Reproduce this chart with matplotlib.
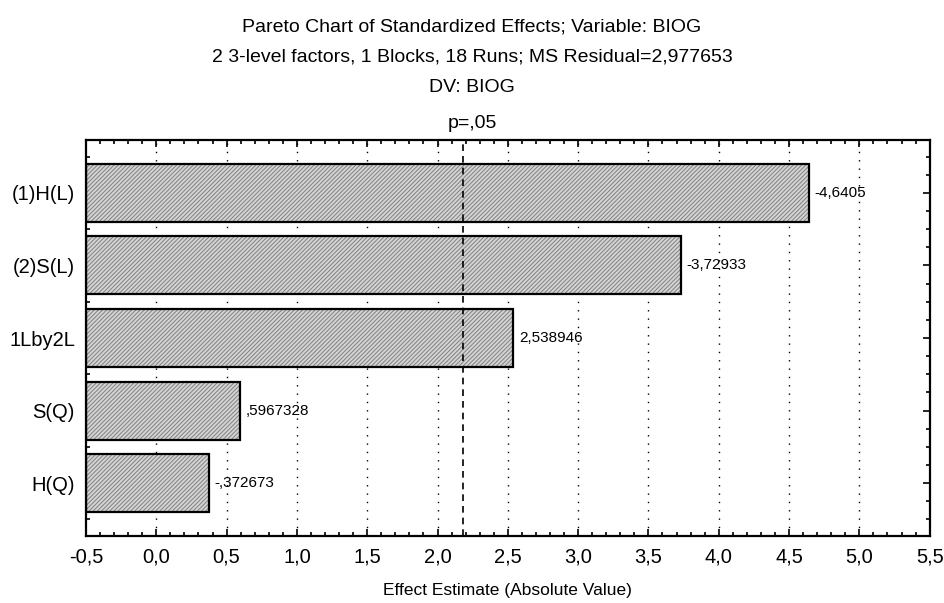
import matplotlib.pyplot as plt
from matplotlib.ticker import MultipleLocator, FixedLocator

plt.rcParams['font.family'] = ['Liberation Sans', 'DejaVu Sans']
plt.rcParams['hatch.linewidth'] = 0.7

# data
factors = ['(1)H(L)', '(2)S(L)', '1Lby2L', 'S(Q)', 'H(Q)']
effects = [-4.6405, -3.72933, 2.538946, 0.5967328, -0.372673]
value_labels = ['-4,6405', '-3,72933', '2,538946', ',5967328', '-,372673']
t_crit = 2.178813
x_ticks = [-0.5, 0.0, 0.5, 1.0, 1.5, 2.0, 2.5, 3.0, 3.5, 4.0, 4.5, 5.0, 5.5]


def main():
    fig = plt.figure(figsize=(9.44, 6.03), dpi=100)
    ax = fig.add_axes([0.0911, 0.1111, 0.8937, 0.6567])

    pos = list(range(len(factors)))
    widths = [abs(e) + 0.5 for e in effects]

    # grid lines behind the bars
    for xv in x_ticks[1:-1]:
        ax.axvline(xv, color='black', lw=1.0, ls=(0, (1, 5)), zorder=1)

    # hatched fill, then the black outline on top
    ax.barh(pos, widths, left=-0.5, height=0.8, color='#d4d4d4',
            edgecolor='#808080', hatch='////////', linewidth=0, zorder=2)
    ax.barh(pos, widths, left=-0.5, height=0.8, fill=False,
            edgecolor='black', linewidth=1.6, zorder=3)

    # critical value line p=,05
    ax.axvline(t_crit, color='black', lw=1.2, ls=(0, (4, 3)), zorder=4)

    for p, e, lab in zip(pos, effects, value_labels):
        ax.text(abs(e) + 0.04, p, lab, va='center', ha='left',
                fontsize=11, zorder=5)

    ax.set_xlim(-0.5, 5.5)
    ax.set_ylim(4.73, -0.73)
    ax.xaxis.set_major_locator(FixedLocator(x_ticks))
    ax.set_xticklabels([f'{v:.1f}'.replace('.', ',') for v in x_ticks])
    ax.xaxis.set_minor_locator(MultipleLocator(0.1))
    ax.set_yticks(pos)
    ax.set_yticklabels(factors)
    ax.yaxis.set_minor_locator(MultipleLocator(0.25))

    ax.tick_params(which='both', direction='in', top=True, right=True,
                   width=1.2, labelsize=14.5)
    ax.tick_params(which='major', length=5, pad=8)
    ax.tick_params(which='minor', length=3)
    for s in ax.spines.values():
        s.set_linewidth(1.6)

    ax.set_xlabel('Effect Estimate (Absolute Value)', fontsize=12.5, labelpad=12)

    titles = ['Pareto Chart of Standardized Effects; Variable: BIOG',
              '2 3-level factors, 1 Blocks, 18 Runs; MS Residual=2,977653',
              'DV: BIOG',
              'p=,05']
    for t, yp in zip(titles, [27, 57, 88, 123]):
        fig.text(0.5, 1 - yp / 603, t, ha='center', va='center', fontsize=14)

    fig.savefig('out.png', dpi=100)


if __name__ == '__main__':
    main()
